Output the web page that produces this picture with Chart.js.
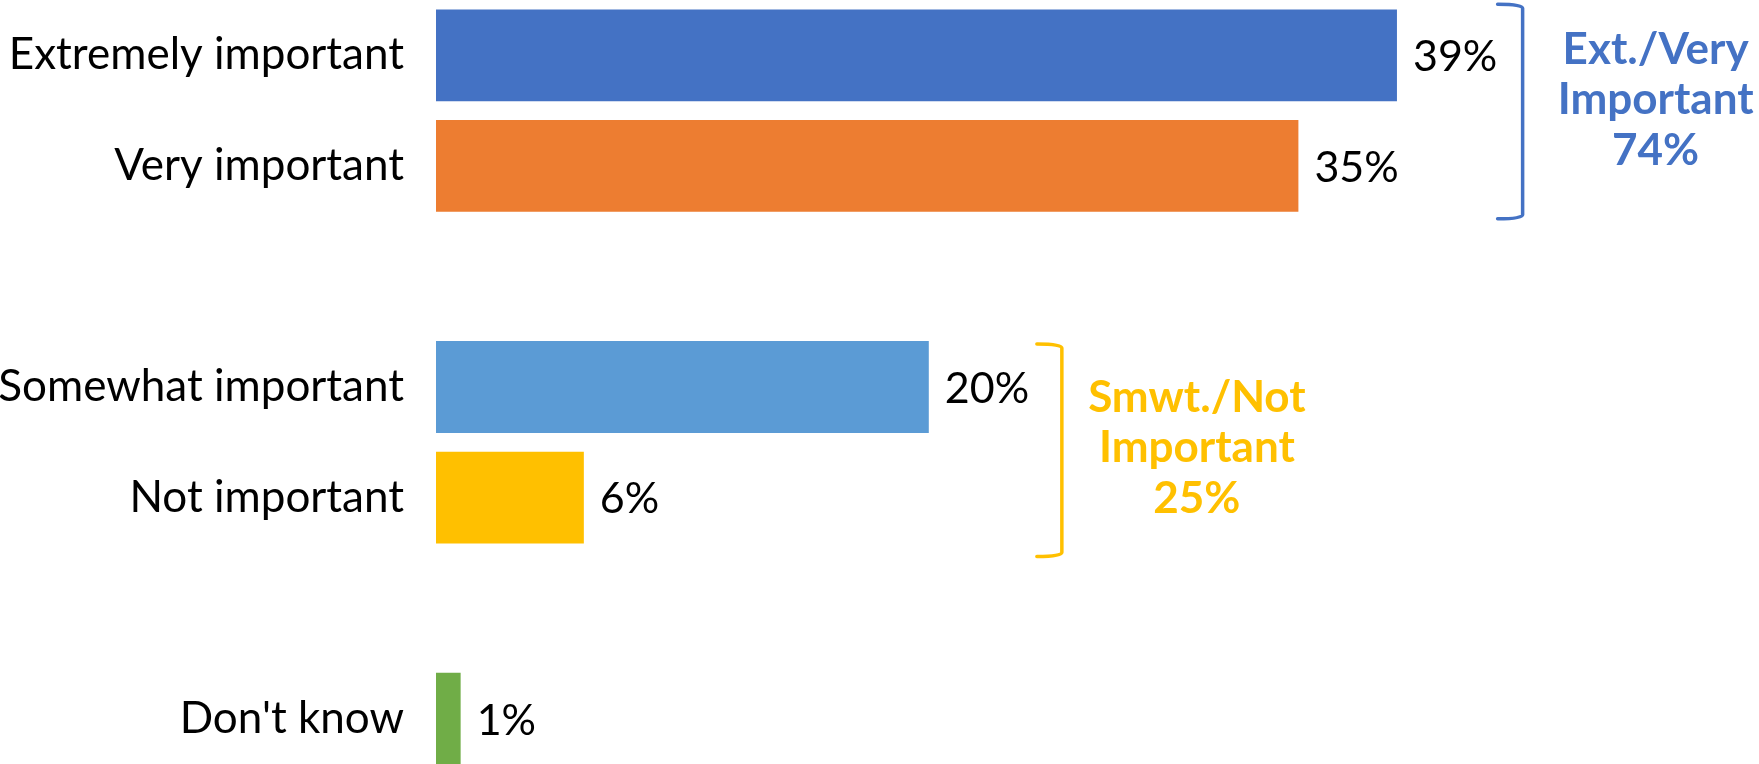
<!DOCTYPE html>
<html>
<head>
<meta charset="utf-8">
<script src="https://cdn.jsdelivr.net/npm/chart.js@4.4.1/dist/chart.umd.min.js"></script>
<style>
  html, body { margin: 0; padding: 0; background: #ffffff; overflow: hidden; }
  #wrap { width: 1759px; height: 774px; position: relative; }
</style>
</head>
<body>
<div id="wrap"><canvas id="c" width="1759" height="774"></canvas></div>
<script>
// ---- data ----
const categories = ['Extremely important', 'Very important', '', 'Somewhat important', 'Not important', '', "Don't know"];
const values = [39, 35, null, 20, 6, null, 1];
const barColors = ['#4472C4', '#ED7D31', '#ffffff', '#5B9BD5', '#FFC000', '#ffffff', '#70AD47'];
const groupLabels = [
  { lines: ['Ext./Very', 'Important', '74%'], color: '#4472C4', from: 0, to: 1 },
  { lines: ['Smwt./Not', 'Important', '25%'], color: '#FFC000', from: 3, to: 4 }
];

const FONT = "Lato, 'Liberation Sans', sans-serif";

const valueLabelPlugin = {
  id: 'valueLabels',
  afterDatasetsDraw(chart) {
    const ctx = chart.ctx;
    const meta = chart.getDatasetMeta(0);
    ctx.save();
    ctx.font = '43px ' + FONT;
    ctx.fillStyle = '#000000';
    ctx.textAlign = 'left';
    ctx.textBaseline = 'middle';
    meta.data.forEach((bar, i) => {
      const v = values[i];
      if (v === null || v === undefined) return;
      ctx.fillText(v + '%', bar.x + 16, bar.y + 2);
    });
    ctx.restore();
  }
};

const bracketPlugin = {
  id: 'brackets',
  afterDatasetsDraw(chart, args, opts) {
    const ctx = chart.ctx;
    const xs = chart.scales.x, ys = chart.scales.y;
    (opts.items || []).forEach(it => {
      const g = groupLabels[it.group];
      const bx = xs.getPixelForValue(it.xValue);
      const top = ys.getPixelForValue(g.from) + it.topOff;
      const bottom = ys.getPixelForValue(g.to) + it.bottomOff;
      ctx.save();
      ctx.strokeStyle = g.color;
      ctx.lineWidth = 3.5;
      ctx.lineJoin = 'round';
      ctx.lineCap = 'round';
      ctx.beginPath();
      ctx.moveTo(bx - it.tick, top);
      ctx.quadraticCurveTo(bx, top, bx, top + 4);
      ctx.lineTo(bx, bottom - 4);
      ctx.quadraticCurveTo(bx, bottom, bx - it.tick, bottom);
      ctx.stroke();
      const mid = (ys.getPixelForValue(g.from) + ys.getPixelForValue(g.to)) / 2;
      ctx.fillStyle = g.color;
      ctx.font = 'bold 44px ' + FONT;
      ctx.textAlign = 'center';
      ctx.textBaseline = 'alphabetic';
      g.lines.forEach((ln, k) => {
        ctx.fillText(ln, bx + it.textDx, mid + it.baseOff + k * it.lineH);
      });
      ctx.restore();
    });
  }
};

new Chart(document.getElementById('c'), {
  type: 'bar',
  data: {
    labels: categories,
    datasets: [{
      data: values,
      backgroundColor: barColors,
      borderWidth: 0,
      categoryPercentage: 1.0,
      barPercentage: 0.83
    }]
  },
  options: {
    indexAxis: 'y',
    responsive: false,
    animation: false,
    layout: { padding: { left: 0, right: 91, top: 0, bottom: 0 } },
    plugins: {
      legend: { display: false },
      tooltip: { enabled: false },
      title: { display: false },
      brackets: {
        items: [
          { group: 0, xValue: 44.1, topOff: -51, bottomOff: 53, tick: 25, textDx: 133, baseOff: -46.6, lineH: 50.5 },
          { group: 1, xValue: 25.4, topOff: -43, bottomOff: 59, tick: 25, textDx: 135, baseOff: -30.5, lineH: 50.5 }
        ]
      }
    },
    scales: {
      x: {
        min: 0, max: 50,
        display: false,
        grid: { display: false }
      },
      y: {
        type: 'category',
        offset: true,
        grid: { display: false, drawTicks: false },
        border: { display: false },
        ticks: {
          color: '#000000',
          font: { family: FONT, size: 44 },
          padding: 32,
          autoSkip: false
        },
        afterFit(scale) {
          scale.width = 436;
          scale.paddingTop = 0;
          scale.paddingBottom = 0;
        }
      }
    }
  },
  plugins: [valueLabelPlugin, bracketPlugin]
});
</script>
</body>
</html>
